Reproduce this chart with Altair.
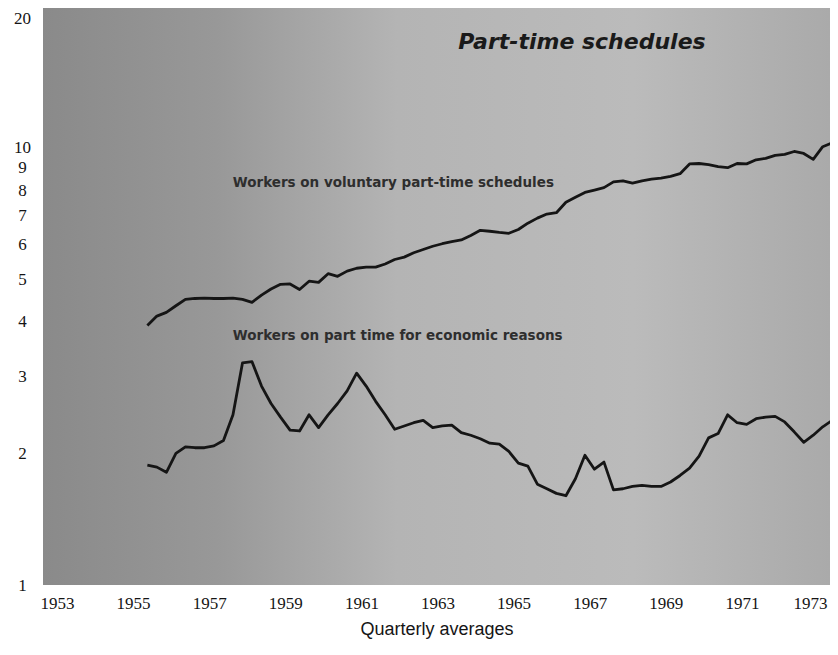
import altair as alt
import pandas as pd

# ---- data (millions of workers, quarterly averages) ----
start_year = 1955          # first quarter shown: 1955 Q2
voluntary = [
    3.92, 4.12, 4.20,
    4.35, 4.50, 4.52, 4.53,
    4.52, 4.52, 4.53, 4.50,
    4.43, 4.60, 4.75, 4.87,
    4.88, 4.74, 4.95, 4.92,
    5.15, 5.08, 5.22, 5.30,
    5.33, 5.33, 5.42, 5.55,
    5.62, 5.75, 5.85, 5.95,
    6.03, 6.10, 6.15, 6.30,
    6.47, 6.44, 6.40, 6.37,
    6.50, 6.72, 6.90, 7.05,
    7.10, 7.50, 7.70, 7.90,
    8.00, 8.10, 8.35, 8.40,
    8.30, 8.40, 8.47, 8.52,
    8.60, 8.72, 9.18, 9.20,
    9.15, 9.05, 9.00, 9.20,
    9.18, 9.38, 9.45, 9.60,
    9.65, 9.80, 9.70, 9.40,
    10.05, 10.25, 10.50,
]
economic = [
    1.88, 1.86, 1.81,
    2.00, 2.07, 2.06, 2.06,
    2.08, 2.14, 2.45, 3.22,
    3.24, 2.85, 2.60, 2.42,
    2.26, 2.25, 2.45, 2.29,
    2.45, 2.60, 2.78, 3.05,
    2.85, 2.63, 2.45, 2.27,
    2.31, 2.35, 2.38, 2.29,
    2.31, 2.32, 2.23, 2.20,
    2.16, 2.11, 2.10, 2.02,
    1.90, 1.87, 1.70, 1.66,
    1.62, 1.60, 1.75, 1.98,
    1.84, 1.91, 1.65, 1.66,
    1.68, 1.69, 1.68, 1.68,
    1.72, 1.78, 1.85, 1.97,
    2.17, 2.22, 2.45, 2.35,
    2.33, 2.40, 2.42, 2.43,
    2.36, 2.24, 2.12, 2.20,
    2.30, 2.38, 2.42,
]
series_names = [
    "Workers on voluntary part-time schedules",
    "Workers on part time for economic reasons",
]
x_ticks = list(range(1953, 1974, 2))
y_ticks = [1, 2, 3, 4, 5, 6, 7, 8, 9, 10, 20]
chart_title = "Part-time schedules"
x_title = "Quarterly averages"

# quarterly mid-points, starting with 1955 Q2
times = [start_year + (1 + i) / 4 + 0.125 for i in range(len(voluntary))]

rows = []
for name, vals in zip(series_names, [voluntary, economic]):
    for t, v in zip(times, vals):
        rows.append({"time": t, "value": v, "series": name})
df = pd.DataFrame(rows)

W, H = 787, 569
ink = "#151515"

x_scale = alt.Scale(domain=[1952.632, 1973.316], nice=False, zero=False)
y_scale = alt.Scale(type="log", domain=[1, 20], nice=False)

x_axis = alt.Axis(
    values=x_ticks, format="d", title=x_title, grid=False, domain=False,
    ticks=False, tickSize=0, labelFont="Liberation Serif", labelFontSize=17,
    labelColor=ink, labelPadding=10, labelFlush=False, labelOverlap=False,
    labelOffset={"condition": {"test": "datum.value == 1973", "value": -8}, "value": 0},
    titleFont="Liberation Sans", titleFontSize=18, titleFontWeight="normal",
    titleColor=ink, titlePadding=9,
)
y_axis = alt.Axis(
    values=y_ticks, format="d", title=None, grid=False, domain=False,
    ticks=False, tickSize=0, labelAlign="center", labelPadding=21,
    labelFont="Liberation Serif", labelFontSize=17, labelColor=ink,
    labelOverlap=False, labelFlush=False,
    labelOffset={"condition": {"test": "datum.value == 20", "value": 2}, "value": 0},
)

# stippled-gray panel background (darker on the left)
bg = alt.Chart(pd.DataFrame({"k": [0]})).mark_rect(
    color=alt.Gradient(
        gradient="linear", x1=0, x2=1, y1=0, y2=0,
        stops=[
            alt.GradientStop(offset=0.0, color="#8a8a8a"),
            alt.GradientStop(offset=0.22, color="#989898"),
            alt.GradientStop(offset=0.45, color="#b4b4b4"),
            alt.GradientStop(offset=0.75, color="#bbbbbb"),
            alt.GradientStop(offset=1.0, color="#aaaaaa"),
        ],
    )
).encode(x=alt.value(0), x2=alt.value(W), y=alt.value(-8), y2=alt.value(H))

lines = alt.Chart(df).mark_line(
    color=ink, strokeWidth=2.8, clip=True, strokeJoin="round"
).encode(
    x=alt.X("time:Q", scale=x_scale, axis=x_axis),
    y=alt.Y("value:Q", scale=y_scale, axis=y_axis),
    detail="series:N",
)

labels_df = pd.DataFrame({
    "label": series_names,
    "time": [1957.62, 1957.62],
    "value": [8.3, 3.7],
})
labels = alt.Chart(labels_df).mark_text(
    align="left", baseline="middle", font="DejaVu Sans", fontSize=13.5,
    fontWeight="bold", color="#2e2e2e",
).encode(
    x=alt.X("time:Q", scale=x_scale),
    y=alt.Y("value:Q", scale=y_scale),
    text="label:N",
)

title = alt.Chart(pd.DataFrame({"t": [chart_title]})).mark_text(
    align="center", baseline="middle", font="DejaVu Sans", fontSize=22,
    fontStyle="italic", fontWeight="bold", color="#1a1a1a",
).encode(x=alt.value(539), y=alt.value(26), text="t:N")

chart = alt.layer(bg, lines, labels, title).properties(
    width=W, height=H,
    autosize=alt.AutoSizeParams(type="none"),
    padding={"left": 35, "top": 8, "right": 0, "bottom": 55},
    background="white",
).configure_view(stroke=None)

chart.save("out.html", embed_options={"renderer": "svg", "actions": False})
